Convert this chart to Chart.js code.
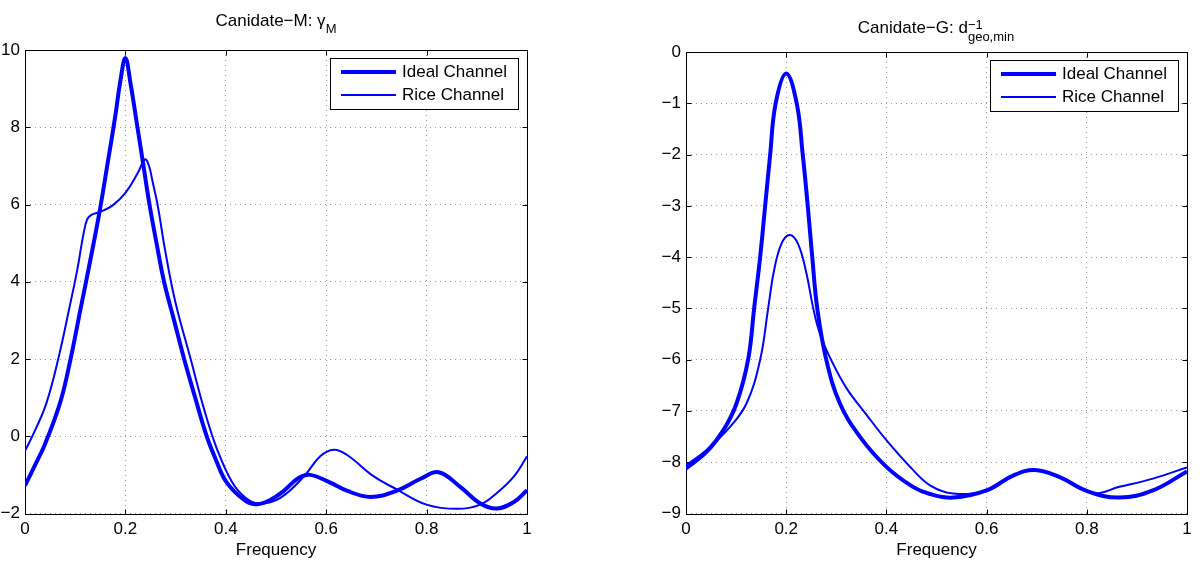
<!DOCTYPE html>
<html>
<head>
<meta charset="utf-8">
<script src="https://cdn.jsdelivr.net/npm/chart.js@4.4.1/dist/chart.umd.min.js"></script>
<style>
    body { margin: 0; background: #fff; }
    #wrap { position: relative; width: 1200px; height: 565px; overflow: hidden; }
    canvas { position: absolute; top: 0; }
    .title { position: absolute; top: 11px; font: 17px 'Liberation Sans', Arial, sans-serif; line-height: 20px; color: #000; white-space: nowrap; transform: translateX(-50%); }
    .sub { font-size: 13px; position: relative; top: 7px; }
    .stack { display: inline-block; font-size: 13px; line-height: 12px; position: relative; top: 8px; vertical-align: baseline; }
    .stack span { display: block; }
</style>
</head>
<body>
<div id="wrap">
    <canvas id="chartM" width="600" height="565" style="left:0"></canvas>
    <canvas id="chartG" width="600" height="565" style="left:600px"></canvas>
    <div class="title" style="left:276px">Canidate&minus;M: &gamma;<span class="sub">M</span></div>
    <div class="title" style="left:936px">Canidate&minus;G: d<span class="stack"><span>&minus;1</span><span>geo,min</span></span></div>
</div>
<script>
const seriesNames = ['Ideal Channel', 'Rice Channel'];
const xTicks = [0, 0.2, 0.4, 0.6, 0.8, 1];
const yTicksM = [-2, 0, 2, 4, 6, 8, 10];
const yTicksG = [-9, -8, -7, -6, -5, -4, -3, -2, -1, 0];

// left panel: gamma_M
const freqIdealM = [0, 0.02, 0.04, 0.07, 0.09, 0.11, 0.13, 0.149, 0.165, 0.18, 0.19, 0.2, 0.21, 0.224, 0.236, 0.248, 0.262, 0.277, 0.297, 0.317, 0.339, 0.362, 0.38, 0.402, 0.44, 0.463, 0.49, 0.515, 0.545, 0.568, 0.608, 0.641, 0.688, 0.741, 0.788, 0.824, 0.867, 0.907, 0.94, 0.974, 1];
const idealM = [-1.28, -0.75, -0.2, 0.87, 1.95, 3.25, 4.55, 5.85, 7.1, 8.3, 9.2, 9.79, 9.15, 8.0, 7.0, 6.0, 5.0, 4.0, 3.0, 2.0, 1.0, 0.0, -0.6, -1.2, -1.68, -1.76, -1.64, -1.42, -1.08, -1.0, -1.2, -1.41, -1.57, -1.41, -1.1, -0.93, -1.31, -1.74, -1.87, -1.7, -1.4];
const freqRiceM = [0, 0.02, 0.043, 0.068, 0.088, 0.104, 0.116, 0.124, 0.133, 0.148, 0.174, 0.2, 0.224, 0.239, 0.247, 0.254, 0.264, 0.28, 0.3, 0.33, 0.357, 0.383, 0.413, 0.44, 0.467, 0.508, 0.555, 0.588, 0.615, 0.641, 0.695, 0.741, 0.8, 0.861, 0.907, 0.94, 0.974, 1];
const riceM = [-0.38, 0.15, 0.87, 2.1, 3.3, 4.3, 5.2, 5.62, 5.74, 5.8, 5.97, 6.3, 6.8, 7.17, 7.0, 6.6, 6.0, 4.75, 3.45, 2.0, 0.69, -0.35, -1.2, -1.6, -1.74, -1.6, -1.05, -0.52, -0.35, -0.48, -1.04, -1.38, -1.77, -1.88, -1.77, -1.47, -1.04, -0.52];

// right panel: d^-1 geo,min
const freqIdealG = [0, 0.041, 0.075, 0.101, 0.124, 0.136, 0.148, 0.158, 0.168, 0.179, 0.2, 0.221, 0.233, 0.243, 0.252, 0.262, 0.28, 0.307, 0.347, 0.4, 0.453, 0.487, 0.533, 0.6, 0.653, 0.696, 0.746, 0.8, 0.865, 0.932, 1];
const idealG = [-8.12, -7.8, -7.37, -6.85, -6.0, -5.0, -4.0, -3.0, -2.0, -1.0, -0.42, -1.0, -2.0, -3.0, -4.0, -5.0, -6.0, -6.85, -7.5, -8.09, -8.48, -8.62, -8.69, -8.55, -8.26, -8.15, -8.29, -8.56, -8.69, -8.55, -8.18];
const freqRiceG = [0, 0.041, 0.088, 0.121, 0.148, 0.164, 0.175, 0.19, 0.207, 0.224, 0.24, 0.254, 0.267, 0.287, 0.32, 0.36, 0.4, 0.453, 0.487, 0.533, 0.6, 0.653, 0.696, 0.746, 0.812, 0.865, 0.932, 1];
const riceG = [-8.06, -7.76, -7.31, -6.85, -6.0, -5.0, -4.3, -3.75, -3.57, -3.75, -4.3, -5.0, -5.49, -5.95, -6.55, -7.07, -7.57, -8.15, -8.45, -8.61, -8.55, -8.26, -8.15, -8.29, -8.6, -8.48, -8.32, -8.1];

const FONT = "'Liberation Sans', Arial, sans-serif";
Chart.defaults.font.family = FONT;
Chart.defaults.font.size = 17;
Chart.defaults.color = '#000';

function toPoints(xs, ys) {
    return xs.map((x, i) => ({ x: x, y: ys[i] }));
}

function fmt(v) {
    return String(v).replace('-', '\u2212');
}

// axes box with inward tick marks, like matlab
const matlabBox = {
    id: 'matlabBox',
    beforeDatasetsDraw(chart) {
        const { ctx, chartArea: a, scales } = chart;
        const l = Math.round(a.left) + 0.5, r = Math.round(a.right) + 0.5;
        const t = Math.round(a.top) + 0.5, b = Math.round(a.bottom) + 0.5;
        ctx.save();
        ctx.strokeStyle = '#000';
        ctx.lineWidth = 1;
        ctx.setLineDash([]);
        ctx.strokeRect(l, t, r - l, b - t);
        ctx.beginPath();
        scales.x.ticks.forEach(tk => {
            const px = Math.round(scales.x.getPixelForValue(tk.value)) + 0.5;
            ctx.moveTo(px, b); ctx.lineTo(px, b - 5);
            ctx.moveTo(px, t); ctx.lineTo(px, t + 5);
        });
        scales.y.ticks.forEach(tk => {
            const py = Math.round(scales.y.getPixelForValue(tk.value)) + 0.5;
            ctx.moveTo(l, py); ctx.lineTo(l + 5, py);
            ctx.moveTo(r, py); ctx.lineTo(r - 5, py);
        });
        ctx.stroke();
        ctx.restore();
    }
};

// legend box inside the top right corner of the axes
const insideLegend = {
    id: 'insideLegend',
    afterDraw(chart) {
        const { ctx, chartArea } = chart;
        const w = 188, h = 51;
        const x = Math.round(chartArea.right) - 9 - w;
        const y = Math.round(chartArea.top) + 8;
        ctx.save();
        ctx.fillStyle = '#fff';
        ctx.fillRect(x, y, w, h);
        ctx.strokeStyle = '#000';
        ctx.lineWidth = 1;
        ctx.strokeRect(x + 0.5, y + 0.5, w, h);
        ctx.font = '17px ' + FONT;
        ctx.textBaseline = 'middle';
        chart.data.datasets.forEach((ds, i) => {
            const ly = y + 14 + i * 23;
            ctx.beginPath();
            ctx.moveTo(x + 11, ly);
            ctx.lineTo(x + 66, ly);
            ctx.strokeStyle = ds.borderColor;
            ctx.lineWidth = ds.borderWidth;
            ctx.stroke();
            ctx.fillStyle = '#000';
            ctx.fillText(ds.label, x + 72, ly);
        });
        ctx.restore();
    }
};

function makeChart(id, ideal, rice, yMin, yMax, yTicks, pad, yWidth) {
    return new Chart(document.getElementById(id).getContext('2d'), {
        type: 'line',
        data: {
            datasets: [{
                label: seriesNames[0],
                data: ideal,
                borderColor: '#0000ff',
                borderWidth: 4,
                pointRadius: 0,
                tension: 0.4
            }, {
                label: seriesNames[1],
                data: rice,
                borderColor: '#0000ff',
                borderWidth: 2,
                pointRadius: 0,
                tension: 0.4
            }]
        },
        options: {
            responsive: false,
            animation: false,
            devicePixelRatio: 1,
            layout: { padding: pad },
            plugins: {
                legend: { display: false },
                tooltip: { enabled: false }
            },
            scales: {
                x: {
                    type: 'linear',
                    min: 0,
                    max: 1,
                    afterBuildTicks: scale => { scale.ticks = xTicks.map(v => ({ value: v })); },
                    afterFit: scale => { scale.height = 51.5; },
                    ticks: { padding: 6, maxRotation: 0, callback: v => fmt(v) },
                    grid: { color: '#9a9a9a', drawTicks: false },
                    border: { display: false, dash: [1, 4] },
                    title: { display: true, text: 'Frequency', padding: { top: 0, bottom: 4 } }
                },
                y: {
                    type: 'linear',
                    min: yMin,
                    max: yMax,
                    afterBuildTicks: scale => { scale.ticks = yTicks.map(v => ({ value: v })); },
                    afterFit: scale => { scale.width = yWidth; },
                    ticks: { padding: 5, callback: v => fmt(v) },
                    grid: { color: '#9a9a9a', drawTicks: false },
                    border: { display: false, dash: [1, 4] }
                }
            }
        },
        plugins: [matlabBox, insideLegend]
    });
}

const chartM = makeChart('chartM', toPoints(freqIdealM, idealM), toPoints(freqRiceM, riceM),
    -2, 10, yTicksM, { left: 0, top: 50, right: 73, bottom: 0 }, 25);
const chartG = makeChart('chartG', toPoints(freqIdealG, idealG), toPoints(freqRiceG, riceG),
    -9, 0, yTicksG, { left: 56, top: 52, right: 13, bottom: 0 }, 30);
</script>
</body>
</html>
